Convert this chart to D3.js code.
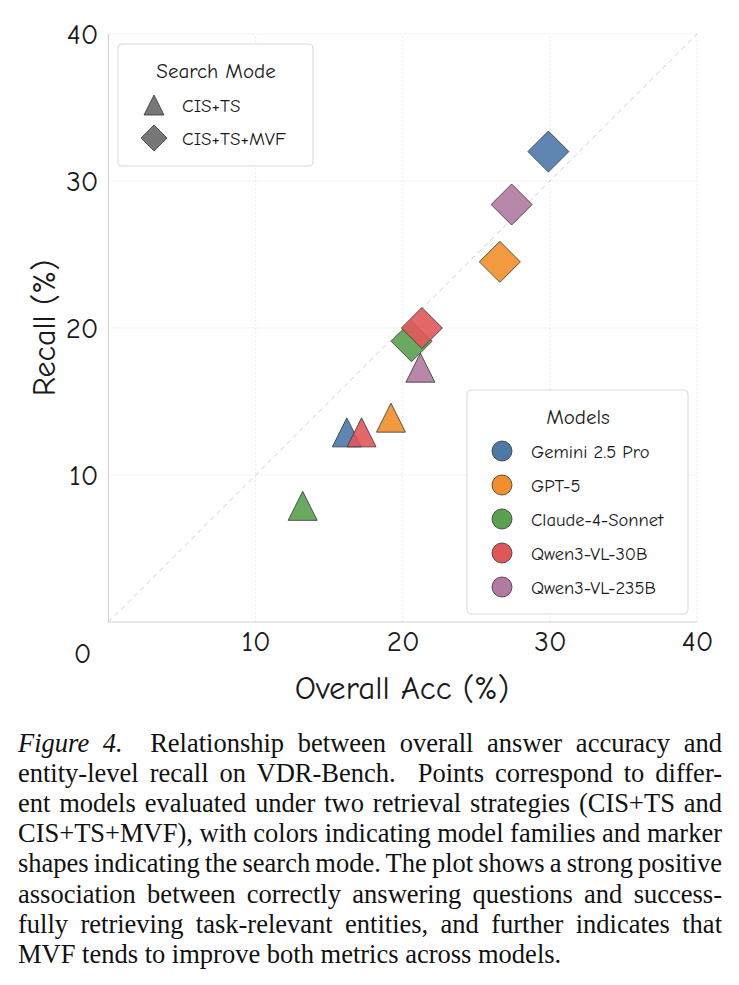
<!DOCTYPE html>
<html>
<head>
<meta charset="utf-8">
<script src="https://cdn.jsdelivr.net/npm/d3@7"></script>
<style>
  body { margin: 0; background: #fff; }
  svg text { fill: #1a1a1a; }
  .chart text { font-family: "Comic Sans MS", "Comic Neue", "DejaVu Sans", sans-serif; }
  .caption text { font-family: "Liberation Serif", "Times New Roman", serif; font-size: 26.5px; fill: #111; }
</style>
</head>
<body>
<script>
// ---- data ----
var models = ["Gemini 2.5 Pro", "GPT-5", "Claude-4-Sonnet", "Qwen3-VL-30B", "Qwen3-VL-235B"];
var colors = ["#4e79a7", "#f28e2b", "#59a14f", "#e15759", "#b07aa1"];
var modes = ["CIS+TS", "CIS+TS+MVF"];
// overall acc / recall for CIS+TS
var accTS = [16.2, 19.2, 13.2, 17.2, 21.2];
var recTS = [12.9, 13.9, 7.9, 12.9, 17.3];
// overall acc / recall for CIS+TS+MVF
var accMVF = [29.9, 26.6, 20.6, 21.3, 27.4];
var recMVF = [32.0, 24.5, 19.1, 20.0, 28.4];
var ticks = [10, 20, 30, 40];

var captionLines = [
  ["Figure 4.", "  Relationship between overall answer accuracy and"],
  ["", "entity-level recall on VDR-Bench.  Points correspond to differ-"],
  ["", "ent models evaluated under two retrieval strategies (CIS+TS and"],
  ["", "CIS+TS+MVF), with colors indicating model families and marker"],
  ["", "shapes indicating the search mode. The plot shows a strong positive"],
  ["", "association between correctly answering questions and success-"],
  ["", "fully retrieving task-relevant entities, and further indicates that"],
  ["", "MVF tends to improve both metrics across models."]
];

var W = 739, H = 985;
var svg = d3.select("body").append("svg").attr("width", W).attr("height", H);
var g = svg.append("g").attr("class", "chart");

var x = d3.scaleLinear().domain([0, 40]).range([108.5, 697]);
var y = d3.scaleLinear().domain([0, 40]).range([622, 34]);

// grid
g.selectAll(".gx").data(ticks).enter().append("line")
  .attr("x1", function(d) { return x(d); }).attr("x2", function(d) { return x(d); })
  .attr("y1", y(0)).attr("y2", y(40))
  .attr("stroke", "#e6e6e6").attr("stroke-width", 0.8).attr("stroke-dasharray", "2,2");
g.selectAll(".gy").data(ticks).enter().append("line")
  .attr("y1", function(d) { return y(d); }).attr("y2", function(d) { return y(d); })
  .attr("x1", x(0)).attr("x2", x(40))
  .attr("stroke", "#e6e6e6").attr("stroke-width", 0.8).attr("stroke-dasharray", "2,2");

// spines
g.append("line").attr("x1", x(0)).attr("x2", x(0)).attr("y1", y(0)).attr("y2", y(40))
  .attr("stroke", "#d0d0d0").attr("stroke-width", 1);
g.append("line").attr("x1", x(0)).attr("x2", x(40)).attr("y1", y(0)).attr("y2", y(0))
  .attr("stroke", "#d0d0d0").attr("stroke-width", 1);

// diagonal y = x
g.append("line").attr("x1", x(0)).attr("y1", y(0)).attr("x2", x(40)).attr("y2", y(40))
  .attr("stroke", "#cfcfcf").attr("stroke-width", 1).attr("stroke-dasharray", "5,4");

// axes
var xAxis = g.append("g").attr("transform", "translate(0," + y(0) + ")")
  .call(d3.axisBottom(x).tickValues(ticks).tickSize(0).tickPadding(8));
var yAxis = g.append("g").attr("transform", "translate(" + x(0) + ",0)")
  .call(d3.axisLeft(y).tickValues(ticks).tickSize(0).tickPadding(10));
[xAxis, yAxis].forEach(function(a) {
  a.select(".domain").remove();
  a.selectAll("text").style("font-size", "29px").style("fill", "#1a1a1a")
    .style("font-family", "\"Comic Sans MS\", \"Comic Neue\", \"DejaVu Sans\", sans-serif");
});
// shared origin label
g.append("text").attr("x", x(0) - 26).attr("y", y(0) + 41).attr("text-anchor", "middle")
  .style("font-size", "29px").text("0");

// axis titles
g.append("text").attr("x", 402).attr("y", 699).attr("text-anchor", "middle")
  .style("font-size", "33px").text("Overall Acc (%)");
g.append("text").attr("transform", "translate(55," + 328 + ") rotate(-90)").attr("text-anchor", "middle")
  .style("font-size", "32px").text("Recall (%)");

// marker shapes
function triPath(h) { return "M0," + (-h) + "L" + h + "," + h + "L" + (-h) + "," + h + "Z"; }
function diaPath(h) { return "M0," + (-h) + "L" + h + ",0L0," + h + "L" + (-h) + ",0Z"; }

var points = [];
models.forEach(function(m, i) {
  points.push({ model: i, mode: 0, acc: accTS[i], rec: recTS[i] });
  points.push({ model: i, mode: 1, acc: accMVF[i], rec: recMVF[i] });
});

g.selectAll(".pt").data(points).enter().append("path")
  .attr("class", "pt")
  .attr("transform", function(d) { return "translate(" + x(d.acc) + "," + y(d.rec) + ")"; })
  .attr("d", function(d) { return d.mode === 0 ? triPath(14.5) : diaPath(20.5); })
  .attr("fill", function(d) { return colors[d.model]; })
  .attr("fill-opacity", 0.9)
  .attr("stroke", "#333").attr("stroke-width", 0.8);

// legend: search mode
var l1 = g.append("g").attr("transform", "translate(118,44)");
l1.append("rect").attr("width", 195).attr("height", 122).attr("rx", 4)
  .attr("fill", "#fff").attr("fill-opacity", 0.9).attr("stroke", "#d8d8d8");
l1.append("text").attr("x", 98).attr("y", 34).attr("text-anchor", "middle")
  .style("font-size", "21px").text("Search Mode");
var le1 = l1.selectAll(".e").data(modes).enter().append("g")
  .attr("transform", function(d, i) { return "translate(36," + (61 + i * 33) + ")"; });
le1.append("path").attr("d", function(d, i) { return i === 0 ? triPath(10) : diaPath(13); })
  .attr("fill", "#777").attr("stroke", "#333").attr("stroke-width", 0.8);
le1.append("text").attr("x", 28).attr("y", 7).style("font-size", "19px").text(function(d) { return d; });

// legend: models
var l2 = g.append("g").attr("transform", "translate(467,390)");
l2.append("rect").attr("width", 221).attr("height", 224).attr("rx", 4)
  .attr("fill", "#fff").attr("fill-opacity", 0.9).attr("stroke", "#d8d8d8");
l2.append("text").attr("x", 111).attr("y", 34).attr("text-anchor", "middle")
  .style("font-size", "21px").text("Models");
var le2 = l2.selectAll(".e").data(models).enter().append("g")
  .attr("transform", function(d, i) { return "translate(35," + (61 + i * 34) + ")"; });
le2.append("circle").attr("r", 10).attr("fill", function(d, i) { return colors[i]; })
  .attr("stroke", "#333").attr("stroke-width", 0.8);
le2.append("text").attr("x", 29).attr("y", 7).style("font-size", "18.5px").text(function(d) { return d; });

// caption, justified line by line
var cap = svg.append("g").attr("class", "caption");
var left = 18, right = 722, lineH = 30.1, base0 = 752;
captionLines.forEach(function(ln, i) {
  var t = cap.append("text").attr("x", left).attr("y", base0 + i * lineH).attr("xml:space", "preserve");
  if (ln[0]) t.append("tspan").style("font-style", "italic").text(ln[0]);
  t.append("tspan").text(ln[1]);
  if (i < captionLines.length - 1) {
    var len = t.node().getComputedTextLength();
    var spaces = ((ln[0] + ln[1]).match(/ /g) || []).length;
    if (spaces > 0) t.style("word-spacing", ((right - left - len) / spaces) + "px");
  }
});
</script>
</body>
</html>
